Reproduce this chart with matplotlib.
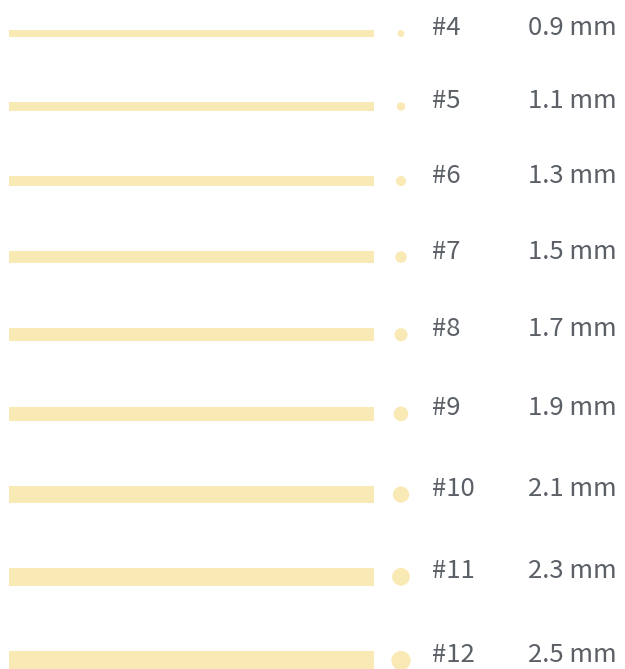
import numpy as np
import matplotlib
matplotlib.use("Agg")
import matplotlib.pyplot as plt

gauges = ["#4", "#5", "#6", "#7", "#8", "#9", "#10", "#11", "#12"]
diameters_mm = [0.9, 1.1, 1.3, 1.5, 1.7, 1.9, 2.1, 2.3, 2.5]
size_labels = ["0.9 mm", "1.1 mm", "1.3 mm", "1.5 mm", "1.7 mm", "1.9 mm", "2.1 mm", "2.3 mm", "2.5 mm"]

W, H = 625, 669
PX_PER_MM = 7.7
GAP = 65.3
TOP = 30
BAR_LEFT, BAR_LEN = 9, 365
DOT_X = 401
LABEL_X, SIZE_X = 432, 528
BAR_COLOR = "#f9e9b4"
TEXT_COLOR = "#5b5f66"

plt.rcParams["font.family"] = ["Noto Sans CJK SC", "DejaVu Sans"]

fig = plt.figure(figsize=(W / 100, H / 100), dpi=100)
ax = fig.add_axes([0, 0, 1, 1])
ax.set_xlim(0, W)
ax.set_ylim(H, 0)
ax.axis("off")

thick = np.array(diameters_mm) * PX_PER_MM
tops = TOP + np.concatenate([[0], np.cumsum(thick[:-1] + GAP)])
centers = tops + thick / 2

ax.barh(centers, BAR_LEN, height=thick, left=BAR_LEFT, color=BAR_COLOR, linewidth=0)
ax.scatter([DOT_X] * len(centers), centers, s=(thick * 0.72) ** 2, color=BAR_COLOR, linewidths=0)

for c, g, s in zip(centers, gauges, size_labels):
    ax.text(LABEL_X, c + 1.5, g, fontsize=18.5, color=TEXT_COLOR, va="baseline", ha="left")
    ax.text(SIZE_X, c + 1.5, s, fontsize=18.5, color=TEXT_COLOR, va="baseline", ha="left")

fig.savefig("out.png", dpi=100)
